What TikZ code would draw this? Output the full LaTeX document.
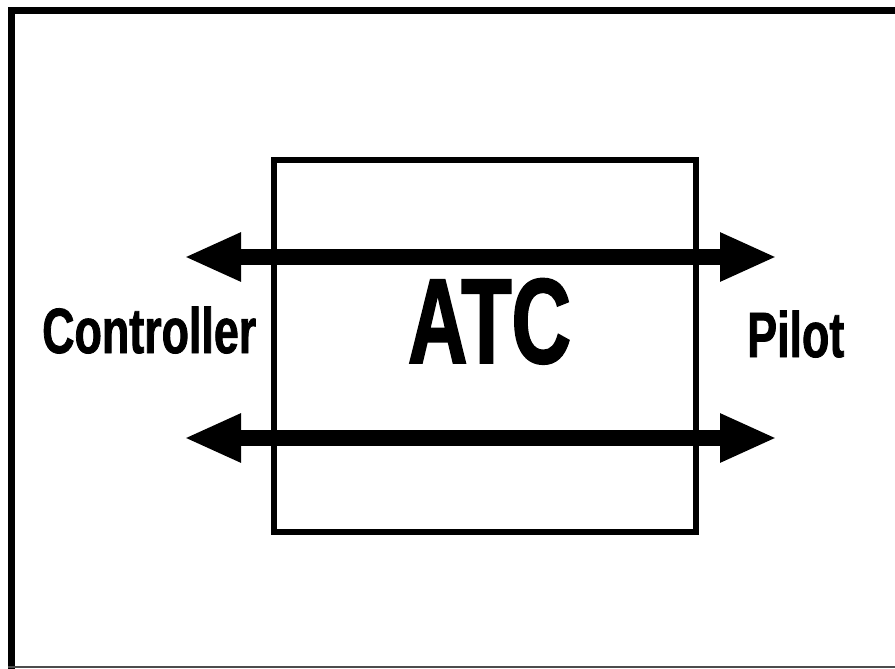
\documentclass[tikz,border=0pt]{standalone}
\usepackage{fontspec}
\setmainfont{Liberation Sans}[FakeStretch=0.70,BoldFeatures={FakeBold=1.2}]
\newfontfamily\atcfont{Liberation Sans}[FakeStretch=0.68,BoldFeatures={FakeBold=1.5}]
\usetikzlibrary{arrows.meta}
\tikzset{
  bigarrow/.style={line width=16pt, {Triangle[length=57pt,width=45pt]}-{Triangle[length=57pt,width=45pt]}},
  lbl/.style={font=\bfseries\fontsize{64}{64}\selectfont, anchor=base west, inner sep=0pt}
}

\begin{document}
\begin{tikzpicture}[x=1pt,y=-1pt]
\useasboundingbox (0,0) rectangle (895,669);
\draw[line width=7pt] (11,669) -- (11,10.3) -- (895,10.3);
\draw[black!70, line width=1.5pt] (8,667) -- (895,667);
\node[draw, line width=6pt, minimum width=422pt, minimum height=372pt, inner sep=0pt] (atcbox) at (485,346) {};
\node[font=\atcfont\bfseries\fontsize{121}{121}\selectfont, anchor=base, inner sep=0pt] (atc) at (489.5,363) {ATC};
\node[lbl] (ctrl) at (42,353) {Controller};
\node[lbl] (pilot) at (747,357) {Pilot};
\coordinate (up-l) at (184,257);
\coordinate (up-r) at (777,257);
\coordinate (lo-l) at (184,438);
\coordinate (lo-r) at (777,438);
\draw[bigarrow] (up-l) -- (up-r);
\draw[bigarrow] (lo-l) -- (lo-r);
\end{tikzpicture}
\end{document}
